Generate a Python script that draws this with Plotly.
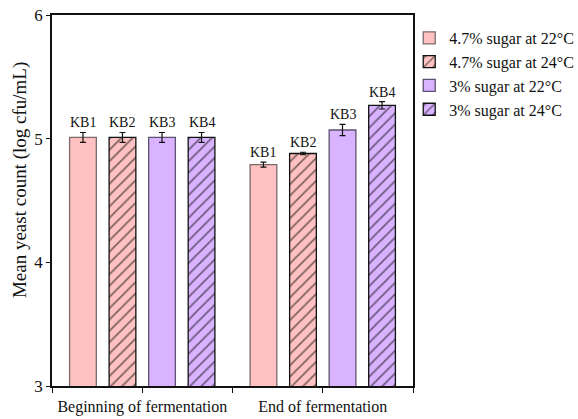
import plotly.graph_objects as go

# Sampling stages (numeric positions 1 and 2 on the x axis)
stages = ["Beginning of fermentation", "End of fermentation"]
stage_pos = [1, 2]

# Treatments
treatments = ["4.7% sugar at 22°C", "4.7% sugar at 24°C", "3% sugar at 22°C", "3% sugar at 24°C"]
bar_labels = ["KB1", "KB2", "KB3", "KB4"]

# Mean yeast counts (log cfu/mL) per treatment, [beginning, end]
kb1_mean = [5.01, 4.79]
kb2_mean = [5.01, 4.88]
kb3_mean = [5.01, 5.07]
kb4_mean = [5.01, 5.27]

# Standard deviations
kb1_err = [0.04, 0.02]
kb2_err = [0.04, 0.01]
kb3_err = [0.04, 0.045]
kb4_err = [0.04, 0.03]

means = [kb1_mean, kb2_mean, kb3_mean, kb4_mean]
errs = [kb1_err, kb2_err, kb3_err, kb4_err]

PINK = "#FFC1C1"
PURPLE = "#D9B3FF"
fills = [PINK, PINK, PURPLE, PURPLE]
hatched = [False, True, False, True]
outline = ["#7a6a6a", "#111111", "#5e5070", "#111111"]

FONT = "Times New Roman, Liberation Serif, serif"

fig = go.Figure()
for i in range(4):
    if hatched[i]:
        marker = dict(
            color=fills[i],
            line=dict(color=outline[i], width=1.3),
            pattern=dict(shape="/", fgcolor="#000000", bgcolor=fills[i],
                         size=8, solidity=0.22),
        )
    else:
        marker = dict(color=fills[i], line=dict(color=outline[i], width=1.3))
    fig.add_trace(go.Bar(
        x=stage_pos, y=means[i], name=treatments[i],
        marker=marker,
        error_y=dict(type="data", array=errs[i], visible=True,
                     color="#111111", thickness=1.2, width=3),
    ))

# KB labels placed just above each error bar
n = len(bar_labels)
slot = (1 - 0.124) / n
for i in range(n):
    offset = (i - (n - 1) / 2) * slot
    for j, xp in enumerate(stage_pos):
        fig.add_annotation(
            x=xp + offset, y=means[i][j] + errs[i][j], xref="x", yref="y",
            text=bar_labels[i], showarrow=False, yanchor="bottom", yshift=0,
            font=dict(family=FONT, size=14, color="#111111"),
        )

# Y-axis title
fig.add_annotation(
    x=0, y=0.555, xref="paper", yref="paper", xshift=-32,
    text="Mean yeast count (log cfu/mL)", textangle=-90, showarrow=False,
    xanchor="center", yanchor="middle",
    font=dict(family=FONT, size=19, color="#111111"),
)

fig.update_layout(
    width=578, height=419,
    margin=dict(l=52, r=165, t=15, b=33, autoexpand=False),
    paper_bgcolor="white", plot_bgcolor="white",
    barmode="group", bargap=0.124, bargroupgap=0.324,
    font=dict(family=FONT, color="#111111"),
    showlegend=True,
    legend=dict(
        xref="container", yref="container",
        x=0.708, xanchor="left", y=0.95, yanchor="top",
        font=dict(family=FONT, size=16, color="#111111"),
        bgcolor="rgba(0,0,0,0)", borderwidth=0, tracegroupgap=0,
        itemwidth=30,
    ),
    xaxis=dict(
        range=[0.5, 2.5],
        tickmode="array",
        tickvals=[0.5, 1, 1.5, 2, 2.5],
        ticktext=["", stages[0], "", stages[1], ""],
        ticks="outside", ticklen=5, tickwidth=1.3, tickcolor="#111111",
        automargin=False,
        showline=True, linecolor="#111111", linewidth=1.5, mirror=True,
        showgrid=False, zeroline=False,
        tickfont=dict(family=FONT, size=16, color="#111111"),
    ),
    yaxis=dict(
        range=[3, 6],
        tickvals=[3, 4, 5, 6],
        ticks="outside", ticklen=4, tickwidth=1.3, tickcolor="#111111",
        automargin=False,
        showline=True, linecolor="#111111", linewidth=1.5, mirror=True,
        showgrid=False, zeroline=False,
        tickfont=dict(family=FONT, size=17, color="#111111"),
    ),
)

fig.write_html("out.html")
